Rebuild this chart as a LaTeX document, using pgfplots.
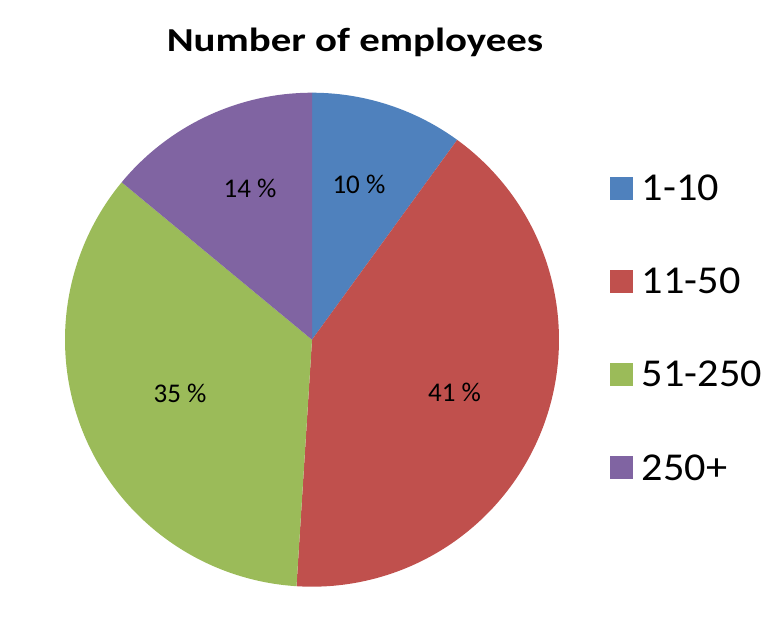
\documentclass[border=0pt]{standalone}
\usepackage{pgfplots}
\pgfplotsset{compat=1.18}
\usepackage{fontspec}
\setmainfont{Carlito}
\newfontfamily\titlefont[FakeStretch=1.22]{Carlito}
\newfontfamily\legendfont[FakeStretch=1.07]{Carlito}
\definecolor{sliceblue}{HTML}{4F81BD}
\definecolor{slicered}{HTML}{C0504D}
\definecolor{slicegreen}{HTML}{9BBB59}
\definecolor{slicepurple}{HTML}{8064A2}

% shares (%): 1-10 = 10, 11-50 = 41, 51-250 = 35, 250+ = 14
% slices start at 12 o'clock and run clockwise, 3.6 degrees per percent
\begin{document}
\begin{tikzpicture}
  \path[use as bounding box] (0,0) rectangle (782pt,622pt);
  \begin{axis}[
    at={(65pt,35.3pt)}, anchor=south west,
    scale only axis, width=494pt, height=494pt,
    xmin=-1, xmax=1, ymin=-1, ymax=1,
    hide axis, clip=false,
    title={\textbf{Number of employees}},
    title style={at={(axis description cs:0.587,1.0703)}, anchor=base,
      font=\titlefont\fontsize{33.5}{40}\selectfont, inner sep=0pt},
    legend style={draw=none, fill=none, at={(axis description cs:1.1032,0.8334)},
      anchor=north west, inner sep=0pt, outer sep=0pt,
      font=\legendfont\fontsize{39.5}{46}\selectfont, row sep=66pt, column sep=9pt,
      nodes={inner sep=0pt}},
    legend cell align=left,
    legend image code/.code={\fill[#1] (0pt,-11.5pt) rectangle (23pt,11.5pt);},
  ]
    \addplot[fill=sliceblue, draw=none, domain={90-3.6*10}:90, samples=60]
      ({cos(x)}, {sin(x)}) -- (axis cs:0,0) -- cycle;
    \addplot[fill=slicered, draw=none, domain={90-3.6*51}:{90-3.6*10}, samples=120]
      ({cos(x)}, {sin(x)}) -- (axis cs:0,0) -- cycle;
    \addplot[fill=slicegreen, draw=none, domain={90-3.6*86}:{90-3.6*51}, samples=120]
      ({cos(x)}, {sin(x)}) -- (axis cs:0,0) -- cycle;
    \addplot[fill=slicepurple, draw=none, domain={90-3.6*100}:{90-3.6*86}, samples=60]
      ({cos(x)}, {sin(x)}) -- (axis cs:0,0) -- cycle;
    \legend{1-10, 11-50, 51-250, 250+}

    \begin{scope}[every node/.style={font=\fontsize{27}{32}\selectfont, inner sep=0pt}]
      \node at (axis cs:0.190,0.630) {10 \%};
      \node at (axis cs:0.577,-0.212) {41 \%};
      \node at (axis cs:-0.534,-0.218) {35 \%};
      \node at (axis cs:-0.251,0.614) {14 \%};
    \end{scope}
  \end{axis}
\end{tikzpicture}
\end{document}
